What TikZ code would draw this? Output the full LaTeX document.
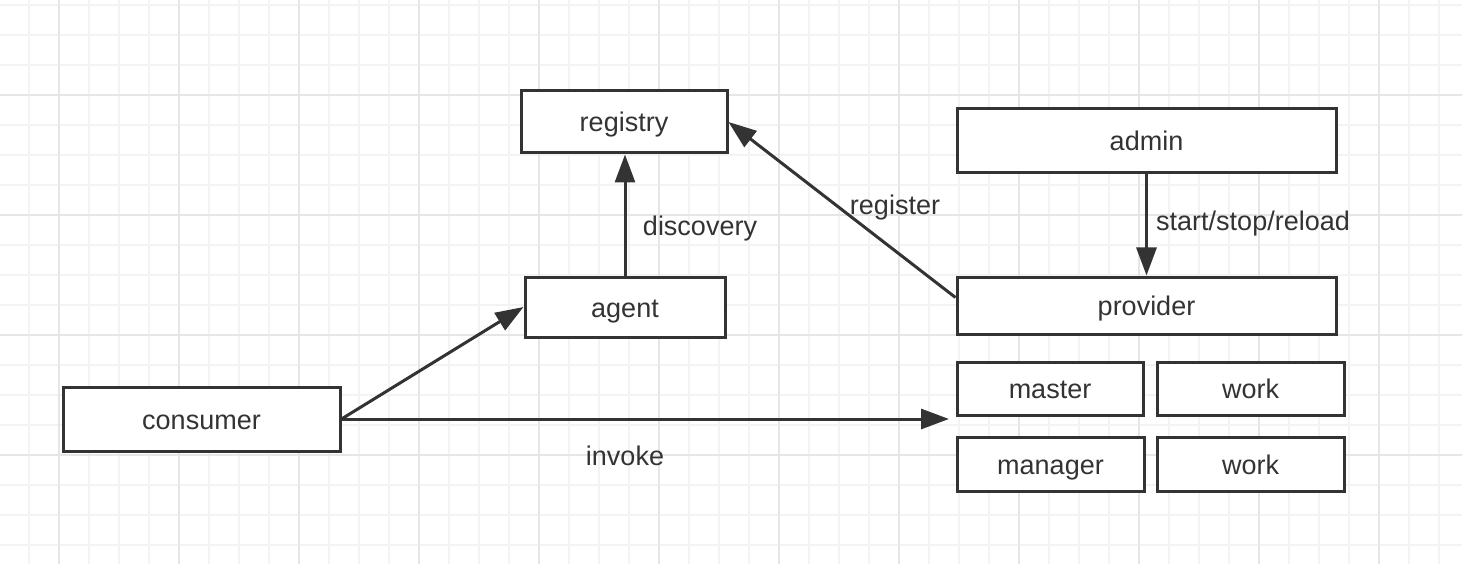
\documentclass[tikz,border=0pt]{standalone}
\usepackage{fontspec}
\setmainfont{Liberation Sans}
\usetikzlibrary{arrows.meta}
\definecolor{ink}{HTML}{333333}
\definecolor{gridminor}{HTML}{F3F3F3}
\definecolor{gridmajor}{HTML}{E6E6E6}
\begin{document}
\begin{tikzpicture}[x=1pt,y=-1pt,
  box/.style={draw=ink,line width=3pt,fill=white,rectangle,inner sep=0pt,text=ink,
    font=\fontsize{27}{31}\selectfont,text height=21.6pt,text depth=1.6pt},
  conn/.style={draw=ink,line width=3pt,-{Triangle[length=28pt,width=20pt]}},
  lbl/.style={text=ink,font=\fontsize{27}{31}\selectfont,inner sep=0pt,anchor=base}]
\fill[white] (0,0) rectangle (1462,564);
\useasboundingbox (0,0) rectangle (1462,564);
% grid
\foreach \gx in {29,59,...,1459} \draw[gridminor,line width=2pt] (\gx,0) -- (\gx,564);
\foreach \gy in {5,35,...,563} \draw[gridminor,line width=2pt] (0,\gy) -- (1462,\gy);
\foreach \gx in {59,179,...,1459} \draw[gridmajor,line width=2pt] (\gx,0) -- (\gx,564);
\foreach \gy in {95,215,...,563} \draw[gridmajor,line width=2pt] (0,\gy) -- (1462,\gy);
% nodes
\node[box,minimum width=206pt,minimum height=62pt] (registry) at (624,122) {registry};
\node[box,minimum width=379pt,minimum height=64pt] (admin) at (1146.5,141) {admin};
\node[box,minimum width=200pt,minimum height=60pt] (agent) at (625,307) {agent};
\node[box,minimum width=379pt,minimum height=57pt] (provider) at (1146.5,305.5) {provider};
\node[box,minimum width=277pt,minimum height=64pt] (consumer) at (201.5,419) {consumer};
\node[box,minimum width=186pt,minimum height=53pt] (master) at (1050,388.5) {master};
\node[box,minimum width=187pt,minimum height=53pt] (work1) at (1250.5,388.5) {work};
\node[box,minimum width=187pt,minimum height=54pt] (manager) at (1050.5,464) {manager};
\node[box,minimum width=187pt,minimum height=54pt] (work2) at (1250.5,464) {work};
\coordinate (invokeend) at (949,419);
% connectors
\draw[conn] (agent.north) -- (agent.north |- registry.south);
\draw[conn] ([yshift=8pt]provider.west) -- (registry.east);
\draw[conn] (admin.south) -- (provider.north);
\draw[conn] (consumer.east) -- (agent.west);
\draw[conn] (consumer.east) -- (invokeend);
% labels
\node[lbl] (ldisc) at (700,236) {discovery};
\node[lbl] (lreg) at (895,215) {register};
\node[lbl,anchor=base west] (lssr) at (1156,231) {start/stop/reload};
\node[lbl] (linv) at (625,465) {invoke};
\end{tikzpicture}
\end{document}
